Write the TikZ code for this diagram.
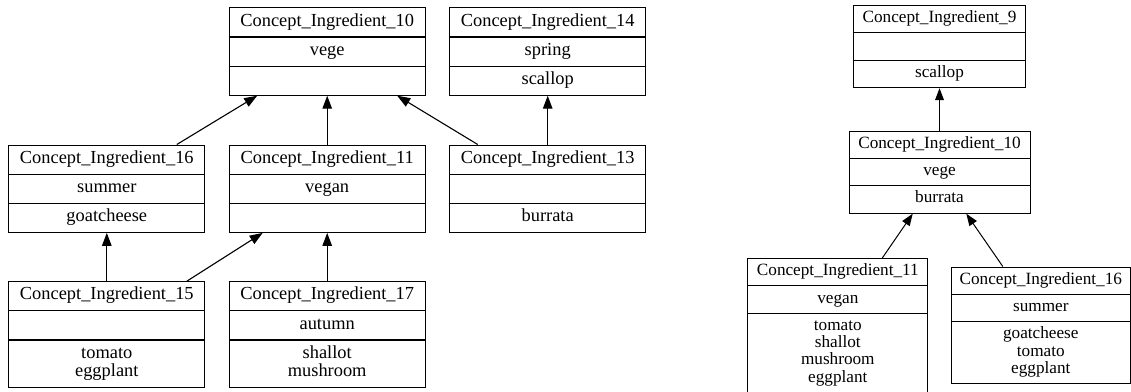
\documentclass[tikz,border=0pt]{standalone}
\usepackage{fontspec}
\setmainfont{Liberation Serif}
\usetikzlibrary{shapes.multipart,arrows.meta}
\tikzset{
  concept/.style={rectangle split, rectangle split parts=3, draw, line width=1.1pt,
    anchor=north, align=center, inner xsep=0pt},
  leftc/.style={concept, font=\fontsize{18.4}{18.3}\selectfont, text width=196pt, inner ysep=4.85pt},
  rightc/.style={concept, line width=1pt, font=\fontsize{17.2}{17.2}\selectfont, inner ysep=4.6pt},
  edgeL/.style={-{Triangle[length=13pt,width=9.5pt]}, line width=1.1pt},
  edgeR/.style={-{Triangle[length=12pt,width=8.8pt]}, line width=1pt},
}
\begin{document}
\begin{tikzpicture}[x=1pt,y=-1pt]
\useasboundingbox (0,0) rectangle (1131,391);
% left lattice
\node[leftc] (L10) at (327.2,7.3) {\strut Concept\_Ingredient\_10\nodepart{two}\strut vege\nodepart{three}\strut};
\node[leftc] (L14) at (547.7,7.3) {\strut Concept\_Ingredient\_14\nodepart{two}\strut spring\nodepart{three}\strut scallop};
\node[leftc] (L16) at (106.8,144.5) {\strut Concept\_Ingredient\_16\nodepart{two}\strut summer\nodepart{three}\strut goatcheese};
\node[leftc] (L11) at (327.2,144.5) {\strut Concept\_Ingredient\_11\nodepart{two}\strut vegan\nodepart{three}\strut};
\node[leftc] (L13) at (547.7,144.5) {\strut Concept\_Ingredient\_13\nodepart{two}\strut\nodepart{three}\strut burrata};
\node[leftc] (L15) at (106.8,281.2) {\strut Concept\_Ingredient\_15\nodepart{two}\strut\nodepart{three}\strut tomato\\\strut eggplant};
\node[leftc] (L17) at (327.2,281.2) {\strut Concept\_Ingredient\_17\nodepart{two}\strut autumn\nodepart{three}\strut shallot\\\strut mushroom};
\draw[edgeL] ([xshift=70pt]L16.north) -- ([xshift=-70pt]L10.south);
\draw[edgeL] (L11.north) -- (L10.south);
\draw[edgeL] ([xshift=-70pt]L13.north) -- ([xshift=70pt]L10.south);
\draw[edgeL] (L13.north) -- (L14.south);
\draw[edgeL] (L15.north) -- (L16.south);
\draw[edgeL] ([xshift=80pt]L15.north) -- ([xshift=-64.5pt]L11.south);
\draw[edgeL] (L17.north) -- (L11.south);
% right lattice
\node[rightc, text width=172pt] (R9) at (939.5,5) {\strut Concept\_Ingredient\_9\nodepart{two}\strut\nodepart{three}\strut scallop};
\node[rightc, text width=181pt] (R10) at (939.5,130.5) {\strut Concept\_Ingredient\_10\nodepart{two}\strut vege\nodepart{three}\strut burrata};
\node[rightc, text width=180pt] (R11) at (837.8,258) {\strut Concept\_Ingredient\_11\nodepart{two}\strut vegan\nodepart{three}\strut tomato\\\strut shallot\\\strut mushroom\\\strut eggplant};
\node[rightc, text width=179pt] (R16) at (1040.8,266.5) {\strut Concept\_Ingredient\_16\nodepart{two}\strut summer\nodepart{three}\strut goatcheese\\\strut tomato\\\strut eggplant};
\draw[edgeR] (R10.north) -- (R9.south);
\draw[edgeR] ([xshift=44.5pt]R11.north) -- ([xshift=-26.8pt]R10.south);
\draw[edgeR] ([xshift=-38pt]R16.north) -- ([xshift=26.8pt]R10.south);
\end{tikzpicture}
\end{document}
